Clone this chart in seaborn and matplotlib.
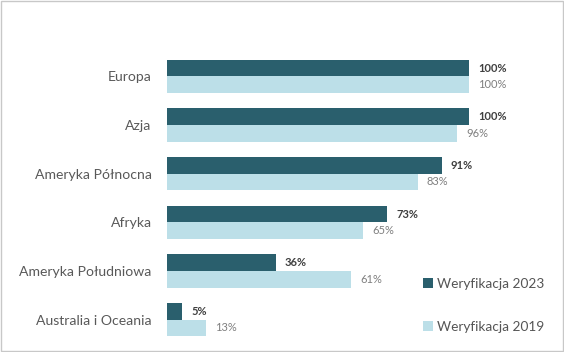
import pandas as pd
import numpy as np
import matplotlib.pyplot as plt
import seaborn as sns
from matplotlib.patches import Rectangle

sns.set_theme(style='white')
plt.rcParams['font.family'] = ['Lato', 'DejaVu Sans']

# ===== Data =====
regions = ['Europa', 'Azja', 'Ameryka Północna', 'Afryka',
           'Ameryka Południowa', 'Australia i Oceania']
series = ['Weryfikacja 2023', 'Weryfikacja 2019']
values_2023 = [100, 100, 91, 73, 36, 5]
values_2019 = [100, 96, 83, 65, 61, 13]

df = pd.DataFrame({
    'region': regions * 2,
    'value': values_2023 + values_2019,
    'series': [series[0]] * len(regions) + [series[1]] * len(regions),
})

# ===== Plot =====
fig = plt.figure(figsize=(5.64, 3.52), dpi=100)
ax = fig.add_axes([167 / 564, 1 - 344 / 352, (469 - 167) / 564, (344 - 52) / 352])

sns.barplot(data=df, y='region', x='value', hue='series', hue_order=series,
            order=regions, orient='h', errorbar=None, width=0.68,
            palette=['#2a5f6d', '#bcdfe8'], saturation=1, linewidth=0, ax=ax)

ax.set_xlim(0, 100)
ax.set_ylim(5.5, -0.5)
ax.set_xlabel('')
ax.set_ylabel('')
ax.set_xticks([])
ax.tick_params(axis='y', length=0, pad=11, labelsize=10.1, labelcolor='#595959')
sns.despine(ax=ax, left=True, bottom=True)

ax.bar_label(ax.containers[0], fmt='{:.0f}%', padding=6.5, fontsize=8,
             fontweight='bold', color='#404040', clip_on=False)
ax.bar_label(ax.containers[1], fmt='{:.0f}%', padding=6.5, fontsize=8,
             color='#7f7f7f', clip_on=False)

handles, labels = ax.get_legend_handles_labels()
ax.legend(handles, labels, loc='lower left', bbox_to_anchor=(416 / 564, 1 - 340 / 352),
          bbox_transform=fig.transFigure, frameon=False, fontsize=9.8,
          labelcolor='#555555', handlelength=0.75, handleheight=0.75,
          handletextpad=0.3, labelspacing=2.3, borderpad=0)

# thin border around the picture
fig.patches.append(Rectangle((0.002, 0.003), 0.996, 0.994, transform=fig.transFigure,
                             fill=False, edgecolor='#c8c8c8', linewidth=1))

fig.savefig('out.png', dpi=100)
